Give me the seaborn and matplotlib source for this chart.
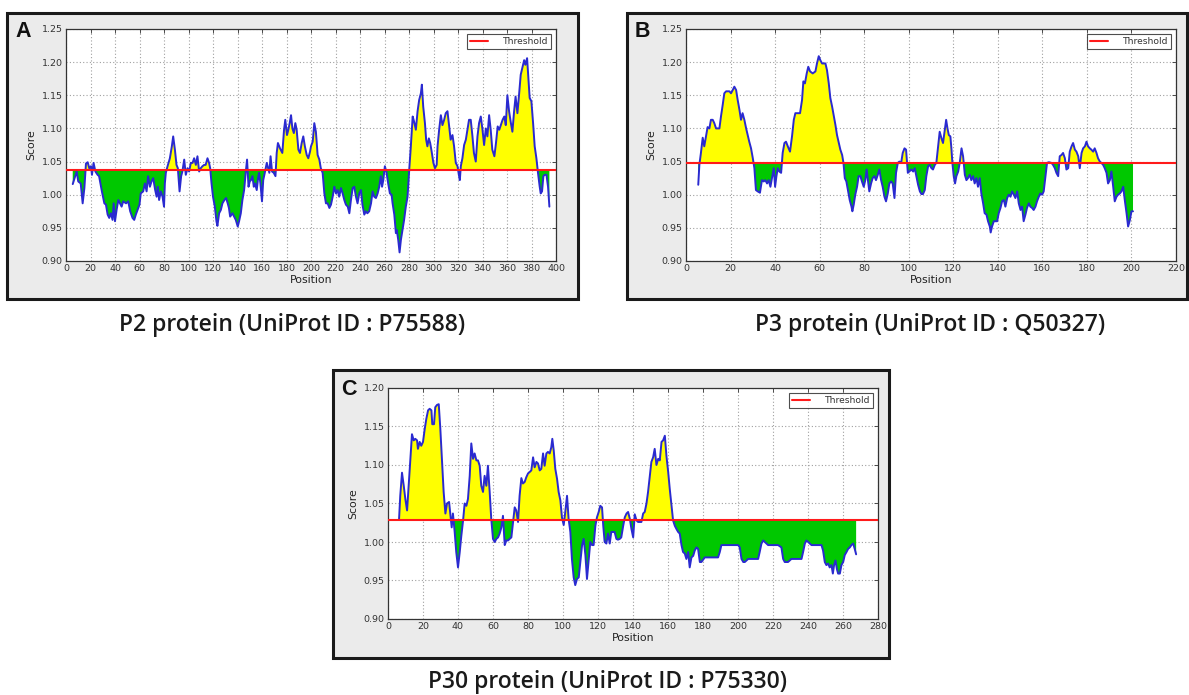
import numpy as np
import pandas as pd
import matplotlib
matplotlib.use("Agg")
import matplotlib.pyplot as plt
from matplotlib.patches import Rectangle
import seaborn as sns

# ---------------- data ----------------
p2_pos = [5.5, 8.7, 10, 12, 13.6, 15, 16.3, 17.7, 19, 20.4, 21.2, 22.5, 24, 25.8, 27, 29.3, 31.3, 32.6, 34, 35.3,
          36.7, 38, 38.9, 40, 41.3, 42.7, 44, 45.4, 46.7, 49, 50.8, 52.4, 54.3, 55.7, 57, 58.4, 60, 61, 63, 64.4,
          65.8, 67, 68.5, 69.8, 71.2, 72.8, 74, 75, 76, 77.4, 78.8, 80, 80.7, 81.5, 82.9, 84.8, 86.4, 87.5, 88.9, 90.2,
          91.3, 92.7, 94, 95, 96.5, 97.8, 99.2, 100.5, 101.9, 103.3, 104.6, 106, 107.3, 108.7, 110, 111.4, 112.8, 114, 115.5, 116.8,
          117.7, 118.8, 120, 121.5, 122.8, 123.6, 125, 126.4, 127.7, 129.3, 130.7, 132, 133, 134, 135.9, 137.2, 138.6, 140.2, 141.3, 142.7,
          144, 145.4, 146.7, 147.8, 149, 150, 151, 152.2, 153.3, 154.3, 155.7, 156.8, 157.6, 158.7, 160, 161, 162.5, 163.9, 165, 166,
          167, 168.2, 169.6, 171, 172, 173, 174.7, 176.6, 178, 179, 180.4, 181.5, 182.6, 183.7, 184.8, 186, 187.2, 188.3, 189.7, 191,
          192.4, 193.7, 195, 196.5, 197.8, 199.2,
          200, 201.4, 202.7, 204, 205.4, 206.8, 208, 209.5, 210.9, 212.2, 213.6, 215, 216.3, 217.7, 219, 220.4, 221.7, 223, 224.5, 225.8,
          227.2, 228.5, 230, 231.3, 232.6, 234, 235.3, 236.7, 238, 239.4, 240.8, 242, 243.5, 244.8, 246, 247.5, 249, 250.3, 251.6, 253,
          254.4, 255.7, 257, 258, 259, 260.3, 261.7, 263, 264.4, 265.8, 266.6, 268, 269.3, 270, 271.2, 272.3, 273.4, 274.7, 276, 277.4,
          278.8, 280.2, 281.5, 283, 284.2, 285.6, 287, 288.3, 289.7, 290.5, 291.6, 293, 294, 295, 296.2, 297.3, 298.5, 299.9, 301.2, 302.6,
          303.3, 304.6, 306, 307.3, 308.7, 310, 311.4, 312.8, 314, 315.5, 316.8, 318.2, 319.6, 320.7, 321.5, 322.3, 323.6, 325, 326.4, 327.7,
          329, 330.4, 331.8, 333, 334.5, 335.9, 337.2, 338.6, 340, 341.3, 342.7, 344, 345.4, 346.7, 348, 349.7, 351, 352.4, 353.7, 355,
          356.4, 357.8, 359, 360.3, 361.7, 363, 364.4, 365.8, 367, 368.5, 369.8, 371.2, 372.5, 374, 375, 376.4, 377.4, 378.5, 379.9, 381.3,
          382.6, 384, 385.3, 386.7, 387.5, 388.6, 389.7, 390.8, 392.2, 393.5, 394.6]
p2_score = [1.016, 1.035, 1.020, 1.017, 0.987, 1.010, 1.047, 1.049, 1.040, 1.043, 1.030, 1.048, 1.035, 1.030, 1.028, 1.005, 0.987, 0.985, 0.970, 0.965,
            0.972, 0.962, 0.987, 0.960, 0.977, 0.992, 0.987, 0.982, 0.990, 0.987, 0.990, 0.975, 0.965, 0.962, 0.970, 0.977, 0.985, 1.002, 1.005, 1.017,
            1.005, 1.028, 1.012, 1.020, 1.025, 1.007, 0.997, 1.012, 0.992, 1.005, 0.997, 0.982, 1.017, 1.033, 1.043, 1.055, 1.073, 1.088, 1.068, 1.045,
            1.040, 1.005, 1.028, 1.035, 1.053, 1.030, 1.040, 1.035, 1.048, 1.048, 1.055, 1.045, 1.058, 1.035, 1.040, 1.043, 1.045, 1.045, 1.055, 1.048,
            1.040, 1.017, 0.997, 0.982, 0.960, 0.953, 0.972, 0.977, 0.987, 0.992, 0.995, 0.987, 0.980, 0.967, 0.972, 0.967, 0.962, 0.952, 0.960, 0.972,
            0.992, 1.007, 1.033, 1.053, 1.012, 1.020, 1.022, 1.028, 1.012, 1.017, 1.007, 1.025, 1.033, 1.017, 0.990, 1.022, 1.035, 1.048, 1.040, 1.033,
            1.058, 1.035, 1.033, 1.028, 1.063, 1.078, 1.070, 1.063, 1.098, 1.113, 1.090, 1.098, 1.108, 1.120, 1.100, 1.093, 1.108, 1.098, 1.068, 1.063,
            1.078, 1.088, 1.073, 1.060, 1.055, 1.065,
            1.073, 1.080, 1.108, 1.095, 1.060, 1.053, 1.040, 1.033, 1.002, 0.987, 0.987, 0.980, 0.985, 0.997, 1.012, 1.002, 1.007, 0.997, 1.010, 1.002,
            0.992, 0.985, 0.982, 0.972, 0.992, 1.010, 1.012, 0.997, 0.987, 1.002, 1.007, 0.985, 0.970, 0.975, 0.972, 0.975, 0.987, 1.005, 0.997, 0.995,
            1.002, 1.012, 1.028, 1.012, 1.022, 1.043, 1.033, 1.017, 1.002, 1.000, 0.987, 0.970, 0.942, 0.947, 0.932, 0.913, 0.932, 0.947, 0.962, 0.982,
            0.997, 1.038, 1.073, 1.118, 1.110, 1.098, 1.126, 1.143, 1.153, 1.166, 1.133, 1.108, 1.083, 1.073, 1.085, 1.078, 1.065, 1.048, 1.040, 1.045,
            1.073, 1.098, 1.120, 1.105, 1.113, 1.123, 1.126, 1.103, 1.083, 1.090, 1.073, 1.048, 1.043, 1.030, 1.022, 1.043, 1.055, 1.075, 1.083, 1.098,
            1.113, 1.113, 1.088, 1.063, 1.050, 1.088, 1.108, 1.118, 1.098, 1.075, 1.100, 1.088, 1.120, 1.098, 1.068, 1.058, 1.078, 1.103, 1.098, 1.105,
            1.113, 1.118, 1.105, 1.150, 1.126, 1.110, 1.095, 1.126, 1.148, 1.123, 1.150, 1.181, 1.191, 1.203, 1.196, 1.206, 1.178, 1.146, 1.141, 1.108,
            1.073, 1.055, 1.033, 1.012, 1.002, 1.005, 1.028, 1.030, 1.030, 1.012, 0.982]
p2_threshold = 1.037

p3_pos = [5.5, 6, 6.7, 7.5, 8.2, 9, 9.7, 10.5, 11.2, 12, 12.7, 13.5, 14.2, 15, 15.7, 16.5, 17.2, 18, 19.5, 20.2,
          21, 21.7, 22.5, 23.2, 24, 24.7, 25.4, 26.2, 27, 27.7, 28.4, 29.2, 30, 30.7, 31.4, 32.2, 33.2, 34.1, 34.9, 35.6,
          36.4, 37.1, 37.9, 38.6, 39.4, 40, 40.6, 41.2, 41.9, 42.7, 43.4, 44.2, 44.9, 45.7, 46.7, 47.6, 48.4, 49.1, 50.1, 51.2,
          52.1, 52.7, 53.4, 54.2, 54.9, 55.7, 56.9, 58.1, 58.8, 59.6, 60.3, 61.1, 61.8, 62.6, 63.3, 64.1, 64.8, 65.6, 66.3, 67.1,
          67.8, 68.6, 69.3, 70.1, 70.7, 71.3, 72, 72.8, 73.5, 74.3, 74.7, 75.3, 76, 76.8, 77.5, 78.3, 79, 79.8, 80.5, 81.1,
          81.7, 82.3, 83.1, 83.8, 84.6, 85.3, 86.1, 86.8, 87.6, 88.3, 89.1, 89.8, 90.6, 91.3, 92.1, 92.8, 93.6, 94.3, 95.1, 95.8,
          96.6, 97.3, 98.1, 98.8, 99.6,
          101.2, 102, 102.7, 103.4, 104.2, 105, 105.7, 106.4, 107.2, 107.9, 108.7, 109.4, 110.2, 110.9, 111.7, 112.4, 113.2, 113.9, 114.7, 115.4,
          116.2, 116.8, 117.4, 118, 118.7, 119.2, 119.6, 120.2, 120.8, 121.4, 122.2, 122.9, 123.7, 124.4, 125.2, 125.9, 126.6, 127.4, 128.1, 128.9,
          129.6, 130.4, 131.1, 131.9, 132.6, 133.4, 134.1, 134.9, 135.6, 136.4, 136.8, 137.4, 138.2, 138.9, 139.7, 140.4, 141.2, 141.9, 142.7, 143.4,
          144.2, 144.9, 145.7, 146.4, 147.2, 147.9, 148.7, 149.4, 150.2, 150.9, 151.6, 152.4, 153.1, 153.9, 154.6, 155.4, 156.1, 156.9, 157.6, 158.4,
          159.1, 159.9, 160.6, 161.4, 162.1, 162.9, 164.1, 164.8, 165.6, 166.3, 167.1, 167.8, 168.6, 169.3, 170.1, 170.8, 171.6, 172.3, 173.1, 173.8,
          174.6, 175.3, 176.1, 176.8, 177.6, 178.3, 179.1, 179.8, 180.5, 181.3, 182, 182.8, 183.5, 184.3, 185, 185.8, 186.5, 187.3, 188, 188.8,
          189.5, 190.3, 191, 191.8, 192.5, 193.3, 194, 194.8, 195.5, 196.3, 197, 197.8, 198.5, 199.3, 200, 200.7]
p3_score = [1.015, 1.045, 1.063, 1.086, 1.073, 1.088, 1.102, 1.100, 1.113, 1.113, 1.108, 1.100, 1.100, 1.100, 1.118, 1.136, 1.153, 1.156, 1.156, 1.153,
            1.158, 1.163, 1.158, 1.143, 1.128, 1.113, 1.123, 1.113, 1.100, 1.090, 1.080, 1.070, 1.055, 1.040, 1.007, 1.005, 1.003, 1.022, 1.020, 1.022,
            1.017, 1.022, 1.012, 1.025, 1.040, 1.012, 1.028, 1.040, 1.035, 1.033, 1.063, 1.078, 1.080, 1.073, 1.065, 1.088, 1.113, 1.123, 1.123, 1.123,
            1.143, 1.171, 1.168, 1.183, 1.193, 1.186, 1.183, 1.186, 1.198, 1.209, 1.203, 1.198, 1.198, 1.198, 1.188, 1.168, 1.146, 1.133, 1.120, 1.105,
            1.090, 1.078, 1.068, 1.060, 1.048, 1.025, 1.020, 1.005, 0.992, 0.982, 0.975, 0.985, 1.000, 1.012, 1.028, 1.028, 1.020, 1.012, 1.022, 1.038,
            1.022, 1.005, 1.017, 1.025, 1.028, 1.022, 1.030, 1.038, 1.022, 1.012, 0.997, 0.990, 1.002, 1.017, 1.020, 1.017, 0.995, 1.033, 1.048, 1.050,
            1.048, 1.063, 1.070, 1.068, 1.033,
            1.038, 1.035, 1.040, 1.028, 1.015, 1.005, 1.001, 1.001, 1.007, 1.028, 1.043, 1.045, 1.040, 1.038, 1.045, 1.048, 1.073, 1.095, 1.085, 1.078,
            1.098, 1.113, 1.100, 1.090, 1.088, 1.068, 1.048, 1.028, 1.017, 1.028, 1.035, 1.048, 1.070, 1.058, 1.030, 1.022, 1.025, 1.030, 1.022, 1.028,
            1.017, 1.025, 1.012, 1.025, 1.002, 0.987, 0.972, 0.970, 0.960, 0.952, 0.943, 0.952, 0.960, 0.960, 0.960, 0.972, 0.980, 0.990, 0.992, 0.982,
            0.995, 1.000, 0.997, 1.005, 1.000, 0.995, 1.005, 0.987, 0.977, 0.982, 0.960, 0.970, 0.980, 0.987, 0.982, 0.980, 0.977, 0.982, 0.990, 0.997,
            1.002, 1.000, 1.005, 1.028, 1.048, 1.049, 1.048, 1.045, 1.040, 1.033, 1.028, 1.058, 1.060, 1.063, 1.055, 1.038, 1.040, 1.065, 1.073, 1.078,
            1.068, 1.065, 1.058, 1.040, 1.063, 1.070, 1.073, 1.080, 1.073, 1.070, 1.068, 1.065, 1.070, 1.063, 1.055, 1.050, 1.048, 1.045, 1.040, 1.033,
            1.017, 1.022, 1.035, 1.012, 0.990, 0.997, 1.000, 1.002, 1.005, 1.012, 0.992, 0.972, 0.952, 0.962, 0.975, 0.975]
p3_threshold = 1.048

p30_pos = [6.3, 7, 8, 9, 9.9, 10.9, 11.8, 12.8, 13.7, 14.7, 15.6, 16.6, 17.1, 18.1, 19, 20, 21, 21.9, 22.9, 23.8,
           24.8, 25.3, 26.3, 27, 28, 29, 29.9, 30.9, 31.8, 32.8, 33.7, 34.9, 35.8, 36.4, 37.1, 38.1, 39, 40, 41, 41.9,
           42.9, 43.8, 44.8, 45.7, 46.7, 47.6, 48.6, 49.5, 50.5, 51.4, 52.4, 53.3, 54.3, 55.2, 56.2, 57.1, 58.1, 59, 60, 61,
           61.9, 62.9, 63.8, 64.8, 65.7, 66.7, 67.6, 68.6, 69.5, 70.5, 71.4, 72.4, 73.3, 74.3, 75.2, 76.2, 77.1, 78.1, 79, 80,
           81, 81.9, 82.9, 83.8, 84.8, 85.7, 86.7, 87.6, 88.6, 89.5, 90.5, 91.4, 92.4, 93.3, 93.9, 94.7, 95.6, 96.6, 97.5, 98.5,
           99.4, 100.4, 101.3, 102.3, 103.2, 104.2, 105.1, 106.1, 107, 108, 109, 109.9, 110.9, 111.8, 112.8, 113.7, 114.7, 115.6, 116.6, 117.5,
           118.5, 119.4, 120.4, 121.3, 122.3, 123, 123.8, 124.8, 125.7, 126.7, 127.6, 128.6, 129.5, 130.5, 131.4, 132.4, 133.3,
           134.4, 135.3, 136.3, 137.2, 138.2, 139.1, 140.1, 141, 142, 142.9, 143.9, 144.8, 145.8, 146.7, 147.7, 148.6, 149.6, 150.5, 151.5, 152.4,
           153.4, 154.4, 155.3, 156.3, 157.2, 158.2, 159.1, 160.1, 161, 162, 162.9, 163.9, 164.8, 165.8, 166.7, 167.7, 168.6, 169.6, 170.5, 171.5,
           172.4, 173.4, 174.4, 175.3, 176.3, 177.2, 178.2, 179.1, 181, 183, 184.8, 186.7, 188.6, 189.6, 190.5, 191.5, 192.4, 194.4, 196.3, 198.2,
           200.1, 201, 202, 203, 203.9, 205.8, 207.7, 209.6, 211.5, 212.4, 213.4, 214.4, 215.3, 217.2, 219.1, 221, 222.9, 224.8, 225.8, 226.7,
           228.6, 230.5, 232.4, 234.4, 236.3, 237.2, 238.2, 239.1, 240.1, 242, 243.9, 245.8, 247.7, 248.6, 249.6, 250.5, 251.5, 252.4, 253.4, 254.2,
           254.9, 255.7, 256.5, 257.2, 258.2, 259.1, 260.1, 261, 262, 262.9, 263.9, 264.8, 265.8, 266.7, 267.5]
p30_score = [1.029, 1.060, 1.090, 1.073, 1.056, 1.041, 1.073, 1.108, 1.140, 1.132, 1.134, 1.132, 1.121, 1.130, 1.125, 1.130, 1.147, 1.160, 1.171, 1.173,
             1.171, 1.153, 1.153, 1.175, 1.178, 1.179, 1.147, 1.104, 1.065, 1.037, 1.050, 1.052, 1.032, 1.019, 1.037, 1.013, 0.987, 0.967, 0.987, 1.008,
             1.028, 1.050, 1.047, 1.056, 1.086, 1.128, 1.108, 1.115, 1.106, 1.106, 1.099, 1.073, 1.065, 1.086, 1.073, 1.099, 1.065, 1.030, 1.004, 1.000,
             1.004, 1.006, 1.011, 1.019, 1.034, 0.996, 1.002, 1.002, 1.004, 1.006, 1.024, 1.045, 1.041, 1.026, 1.060, 1.083, 1.076, 1.078, 1.084, 1.089,
             1.091, 1.093, 1.110, 1.097, 1.104, 1.102, 1.093, 1.095, 1.115, 1.099, 1.115, 1.117, 1.115, 1.123, 1.134, 1.119, 1.095, 1.082, 1.065, 1.054,
             1.032, 1.022, 1.039, 1.060, 1.030, 1.013, 0.978, 0.954, 0.944, 0.952, 0.954, 0.974, 0.996, 1.004, 0.983, 0.952, 0.978, 1.000, 0.996, 0.996,
             1.021, 1.032, 1.039, 1.047, 1.045, 1.021, 1.000, 0.998, 1.011, 0.998, 1.013, 1.013, 1.013, 1.004, 1.003, 1.004, 1.006,
             1.021, 1.032, 1.037, 1.039, 1.030, 1.017, 1.006, 1.036, 1.028, 1.026, 1.026, 1.026, 1.037, 1.039, 1.050, 1.065, 1.086, 1.104, 1.110, 1.121,
             1.100, 1.108, 1.106, 1.130, 1.132, 1.138, 1.112, 1.091, 1.069, 1.047, 1.028, 1.021, 1.017, 1.013, 1.011, 0.996, 0.987, 0.985, 0.978, 0.987,
             0.967, 0.980, 0.982, 0.989, 0.993, 0.991, 0.974, 0.974, 0.980, 0.980, 0.980, 0.980, 0.980, 0.987, 0.996, 0.996, 0.996, 0.996, 0.996, 0.996,
             0.996, 0.993, 0.978, 0.974, 0.974, 0.978, 0.978, 0.978, 0.978, 0.987, 0.998, 1.002, 1.000, 0.996, 0.996, 0.996, 0.996, 0.993, 0.978, 0.974,
             0.974, 0.978, 0.978, 0.978, 0.978, 0.987, 0.998, 1.002, 1.000, 0.996, 0.996, 0.996, 0.996, 0.989, 0.974, 0.970, 0.972, 0.967, 0.970, 0.959,
             0.970, 0.976, 0.965, 0.959, 0.959, 0.970, 0.974, 0.983, 0.987, 0.991, 0.993, 0.996, 0.998, 0.991, 0.984]
p30_threshold = 1.029

panel_letters = ["A", "B", "C"]
captions = ["P2 protein (UniProt ID : P75588)",
            "P3 protein (UniProt ID : Q50327)",
            "P30 protein (UniProt ID : P75330)"]

# ---------------- style ----------------
sns.set_theme(style="white")
plt.rcParams['font.family'] = ['DejaVu Sans']

W, H = 1189, 695
fig = plt.figure(figsize=(W / 100, H / 100), dpi=100)
fig.patch.set_facecolor("white")


def fx(px):
    return px / W


def fy(py):
    return 1 - py / H


# panel frames (pixel boxes: x0, y0, x1, y1)
frames = [(7, 13, 578, 299), (627, 13, 1187, 299), (333, 370, 889, 658)]
axes_px = [(66, 29, 556, 261), (686, 29, 1176, 261), (388, 388, 878, 619)]
letter_px = [(15, 37), (635, 37), (341, 395)]
caption_px = [(292, 325), (930, 325), (608, 682)]

datasets = [
    (p2_pos, p2_score, p2_threshold, (0, 400), (0.90, 1.25), np.arange(0, 401, 20), np.arange(0.90, 1.2501, 0.05)),
    (p3_pos, p3_score, p3_threshold, (0, 220), (0.90, 1.25), np.arange(0, 221, 20), np.arange(0.90, 1.2501, 0.05)),
    (p30_pos, p30_score, p30_threshold, (0, 280), (0.90, 1.20), np.arange(0, 281, 20), np.arange(0.90, 1.2001, 0.05)),
]

for i in range(3):
    x0, y0, x1, y1 = frames[i]
    fig.patches.append(Rectangle((fx(x0), fy(y1)), fx(x1 - x0), (y1 - y0) / H,
                                 transform=fig.transFigure, facecolor="#ebebeb",
                                 edgecolor="#1a1a1a", linewidth=2.2, zorder=-5))

for i, (pos, score, thr, xl, yl, xt, yt) in enumerate(datasets):
    ax0, ay0, ax1, ay1 = axes_px[i]
    ax = fig.add_axes([fx(ax0), fy(ay1), fx(ax1 - ax0), (ay1 - ay0) / H])
    ax.set_zorder(2)
    ax.set_facecolor("white")
    df = pd.DataFrame({"Position": pos, "Score": score})
    xs = np.asarray(pos, dtype=float)
    ys = np.asarray(score, dtype=float)
    ax.fill_between(xs, ys, thr, where=ys >= thr, interpolate=True, color="#ffff00", linewidth=0, zorder=2)
    ax.fill_between(xs, ys, thr, where=ys <= thr, interpolate=True, color="#00c800", linewidth=0, zorder=2)
    sns.lineplot(data=df, x="Position", y="Score", ax=ax, color="#2a2ad0", linewidth=1.4,
                 sort=False, estimator=None, zorder=3)
    ax.axhline(thr, color="#ff1a1a", linewidth=1.5, zorder=4, label="Threshold")
    ax.set_xlim(*xl)
    ax.set_ylim(*yl)
    ax.set_xticks(xt)
    ax.set_yticks(yt)
    ax.set_yticklabels([f"{v:.2f}" for v in yt])
    ax.grid(True, linestyle=(0, (1, 2)), color="#a0a0a0", linewidth=0.8)
    ax.set_axisbelow(True)
    for sp in ax.spines.values():
        sp.set_color("#333333")
        sp.set_linewidth(0.9)
    ax.tick_params(direction="in", length=3, width=0.6, top=True, right=True,
                   labelsize=6.8, labelcolor="#333333", color="#333333", pad=2.5)
    ax.set_xlabel("Position", fontsize=7.8, color="#222222", labelpad=1)
    ax.set_ylabel("Score", fontsize=7.8, color="#222222", labelpad=4)
    leg = ax.legend(loc="upper right", fontsize=6.6, frameon=True, fancybox=False,
                    borderpad=0.35, handlelength=2.0, handletextpad=1.6, borderaxespad=0.5)
    leg.get_frame().set_edgecolor("#222222")
    leg.get_frame().set_linewidth(0.8)
    for t in leg.get_texts():
        t.set_color("#333333")

    lx, ly = letter_px[i]
    fig.text(fx(lx), fy(ly), panel_letters[i], fontsize=15.5, fontweight="bold",
             family="Liberation Sans", color="#111111", va="baseline")
    cx, cy = caption_px[i]
    fig.text(fx(cx), fy(cy), captions[i], fontsize=16.5, fontweight="semibold",
             family="Open Sans", color="#1a1a1a", ha="center", va="center")

fig.savefig("out.png", dpi=100, facecolor="white")
